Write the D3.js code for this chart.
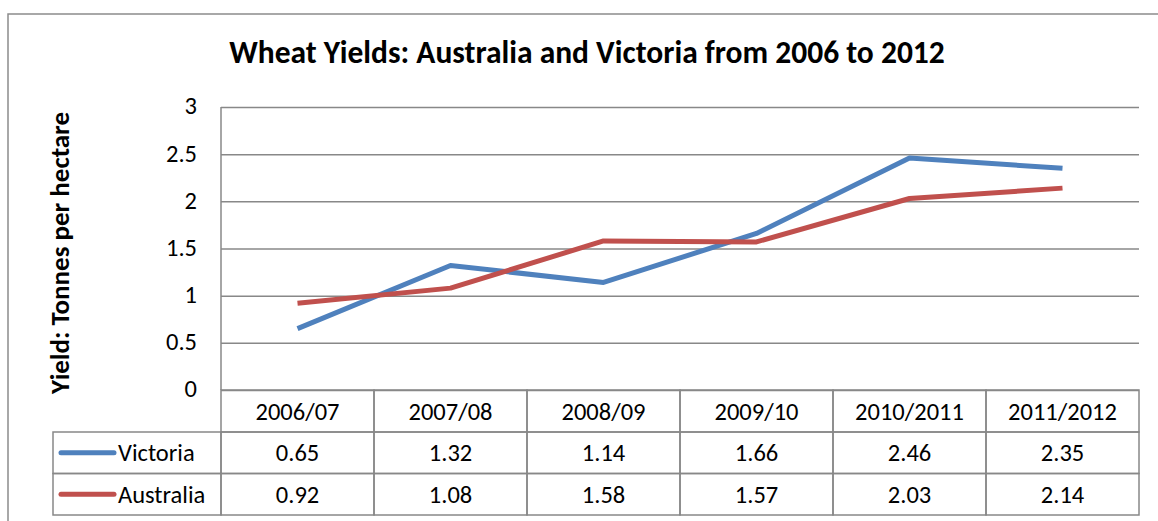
<!DOCTYPE html>
<html>
<head>
<meta charset="utf-8">
<script src="https://cdn.jsdelivr.net/npm/d3@7"></script>
<style>
  body { margin: 0; background: #fff; }
  svg { display: block; font-family: Carlito, Lato, "Liberation Sans", sans-serif; }
</style>
</head>
<body>
<svg id="chart" width="1158" height="521"></svg>
<script>
// data
var seasons = ["2006/07", "2007/08", "2008/09", "2009/10", "2010/2011", "2011/2012"];
var victoria = [0.65, 1.32, 1.14, 1.66, 2.46, 2.35];
var australia = [0.92, 1.08, 1.58, 1.57, 2.03, 2.14];
var seriesNames = ["Victoria", "Australia"];
var yTicks = [0, 0.5, 1, 1.5, 2, 2.5, 3];

var blue = "#4f81bd";
var red = "#c0504d";
var gridColor = "#888";
var fs = 24.5;

var svg = d3.select("#chart");
var margin = {top: 107, left: 221, right: 19};
var plotW = 1158 - margin.left - margin.right;
var plotH = 283;

// outer chart border
svg.append("rect")
    .attr("x", 8).attr("y", 14)
    .attr("width", 1200).attr("height", 600)
    .attr("fill", "none")
    .attr("stroke", "#8c8c8c")
    .attr("stroke-width", 1.5);

svg.append("text")
    .attr("x", 587).attr("y", 63)
    .attr("text-anchor", "middle")
    .attr("font-size", 31.5)
    .attr("font-weight", "bold")
    .text("Wheat Yields: Australia and Victoria from 2006 to 2012");

var xScale = d3.scaleBand()
    .domain(seasons)
    .range([0, plotW]);
var yScale = d3.scaleLinear()
    .domain([0, 3])
    .range([plotH, 0]);

var g = svg.append("g")
    .attr("transform", "translate(" + margin.left + "," + margin.top + ")");

// gridlines
g.append("g")
    .call(d3.axisLeft(yScale).tickValues(yTicks).tickSize(-plotW).tickFormat(""))
    .call(s => s.select(".domain").remove())
    .selectAll("line")
    .attr("stroke", gridColor)
    .attr("stroke-width", 1.5);

// left border of plot
g.append("line")
    .attr("x1", 0).attr("x2", 0)
    .attr("y1", 0).attr("y2", plotH)
    .attr("stroke", gridColor).attr("stroke-width", 1.5);

// y tick labels
g.selectAll(".ylab")
    .data(yTicks)
    .enter().append("text")
    .attr("x", -24)
    .attr("y", d => yScale(d))
    .attr("dy", "0.3em")
    .attr("text-anchor", "end")
    .attr("font-size", fs)
    .text(d => d);

// y axis title
svg.append("text")
    .attr("transform", "translate(69,253) rotate(-90)")
    .attr("text-anchor", "middle")
    .attr("font-size", 27)
    .attr("font-weight", "bold")
    .text("Yield: Tonnes per hectare");

// lines
var line = d3.line()
    .x((d, i) => xScale(seasons[i]) + xScale.bandwidth() / 2)
    .y(d => yScale(d));

[victoria, australia].forEach(function(vals, k) {
    g.append("path")
        .datum(vals)
        .attr("fill", "none")
        .attr("stroke", k === 0 ? blue : red)
        .attr("stroke-width", 5)
        .attr("stroke-linejoin", "round")
        .attr("d", line);
});

// data table
var headH = 42, rowH = 41.5;
var tbl = g.append("g").attr("transform", "translate(0," + plotH + ")");
var legendLeft = 53 - margin.left;

// header cells
seasons.forEach(function(s) {
    tbl.append("rect")
        .attr("x", xScale(s)).attr("y", 0)
        .attr("width", xScale.bandwidth()).attr("height", headH)
        .attr("fill", "none").attr("stroke", gridColor).attr("stroke-width", 1.5);
    tbl.append("text")
        .attr("x", xScale(s) + xScale.bandwidth() / 2)
        .attr("y", headH / 2)
        .attr("dy", "0.35em")
        .attr("text-anchor", "middle")
        .attr("font-size", fs)
        .text(s);
});

[victoria, australia].forEach(function(vals, k) {
    var y0 = headH + k * rowH;
    tbl.append("rect")
        .attr("x", legendLeft).attr("y", y0)
        .attr("width", -legendLeft).attr("height", rowH)
        .attr("fill", "none").attr("stroke", gridColor).attr("stroke-width", 1.5);
    tbl.append("line")
        .attr("x1", legendLeft + 8).attr("x2", legendLeft + 61)
        .attr("y1", y0 + rowH / 2).attr("y2", y0 + rowH / 2)
        .attr("stroke", k === 0 ? blue : red)
        .attr("stroke-width", 5)
        .attr("stroke-linecap", "round");
    tbl.append("text")
        .attr("x", legendLeft + 65)
        .attr("y", y0 + rowH / 2)
        .attr("dy", "0.35em")
        .attr("font-size", fs)
        .text(seriesNames[k]);
    vals.forEach(function(v, i) {
        tbl.append("rect")
            .attr("x", xScale(seasons[i])).attr("y", y0)
            .attr("width", xScale.bandwidth()).attr("height", rowH)
            .attr("fill", "none").attr("stroke", gridColor).attr("stroke-width", 1.5);
        tbl.append("text")
            .attr("x", xScale(seasons[i]) + xScale.bandwidth() / 2)
            .attr("y", y0 + rowH / 2)
            .attr("dy", "0.35em")
            .attr("text-anchor", "middle")
            .attr("font-size", fs)
            .text(v.toFixed(2));
    });
});
</script>
</body>
</html>
